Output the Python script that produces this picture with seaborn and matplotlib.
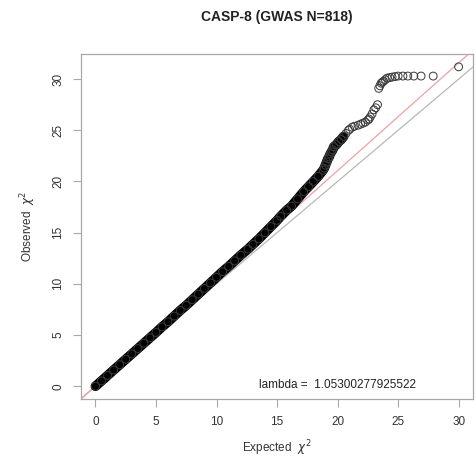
import numpy as np
import pandas as pd
import matplotlib
matplotlib.use("Agg")
import matplotlib.pyplot as plt
import seaborn as sns

# Points (expected vs observed chi-square)
expected = [0, 0.5, 1, 1.5, 2, 2.5, 3, 3.5, 4, 4.5, 5, 5.5, 6, 6.5, 7, 7.5, 8, 8.5, 9, 9.5,
            10, 10.5, 11, 11.5, 12, 12.6, 13, 13.5, 14, 14.5, 15, 15.3, 15.8, 16.2, 16.7, 17.2,
            17.6, 18.0, 18.4, 18.8, 18.9, 19.0, 19.1, 19.2, 19.3, 19.4, 19.5, 19.6, 19.7, 19.9,
            20.1, 20.3, 20.5, 20.7, 20.9, 21.0, 21.2, 21.4, 21.7, 21.9, 22.1, 22.3, 22.5, 22.6,
            22.7, 22.85, 23.0, 23.15, 23.3, 23.4, 23.5, 23.6, 23.7, 23.8, 23.95, 24.1, 24.3, 24.5,
            24.75, 25.0, 25.4, 25.8, 26.3, 26.9, 27.9, 30.0]
observed = [0, 0.52, 1.05, 1.58, 2.1, 2.63, 3.15, 3.68, 4.2, 4.73, 5.25, 5.8, 6.3, 6.85, 7.4, 7.9, 8.45, 9.0, 9.55, 10.1,
            10.65, 11.2, 11.7, 12.25, 12.8, 13.4, 13.85, 14.4, 15.0, 15.6, 16.2, 16.6, 17.2, 17.6, 18.3, 19.0,
            19.5, 20.0, 20.5, 21.1, 21.3, 21.6, 21.9, 22.2, 22.4, 22.7, 22.9, 23.1, 23.4, 23.6,
            23.9, 24.1, 24.4, 24.7, 25.0, 25.1, 25.3, 25.4, 25.5, 25.6, 25.7, 25.8, 26.0, 26.1,
            26.3, 26.6, 27.0, 27.2, 27.5, 29.1, 29.35, 29.6, 29.7, 29.8, 29.95, 30.1, 30.15, 30.2,
            30.25, 30.3, 30.3, 30.3, 30.3, 30.3, 30.3, 31.2]
lam = 1.05300277925522
title = "CASP-8 (GWAS N=818)"

df = pd.DataFrame({"expected": expected, "observed": observed})
dense = df[df["expected"] <= 20.5]

sns.set_style("white")
plt.rcParams["font.family"] = ["Liberation Sans", "DejaVu Sans"]

fig = plt.figure(figsize=(4.76, 4.70), dpi=100)
ax = fig.add_axes([0.170, 0.151, 0.824, 0.734])

ax.axline((0, 0), slope=1, color="#b8b8b8", lw=0.9, zorder=1)
ax.axline((0, 0), slope=lam, color="#f0a0a0", lw=0.9, zorder=1)

# dense part drawn as a thick band of overlapping circles
sns.lineplot(data=dense, x="expected", y="observed", ax=ax, color="black",
             lw=7, solid_capstyle="round", solid_joinstyle="round", sort=True, zorder=2)
sns.scatterplot(data=df, x="expected", y="observed", ax=ax, marker="o",
                facecolors="none", edgecolor="#3a3a3a", linewidth=0.7, s=32, zorder=3)

ax.set_xlim(-1.2, 31.2)
ax.set_ylim(-1.25, 32.45)
ax.set_xticks(range(0, 31, 5))
ax.set_yticks(range(0, 31, 5))
ax.set_yticklabels([str(v) for v in range(0, 31, 5)], rotation=90, va="center")

for s in ax.spines.values():
    s.set_color("#a8a8a8")
    s.set_linewidth(0.9)
ax.tick_params(axis="both", direction="out", length=6, width=0.8, color="#a8a8a8",
               labelsize=8.5, labelcolor="#333333", pad=6, left=True, bottom=True)

ax.set_xlabel(r"Expected  $\chi^2$", fontsize=8.5, color="#333333", labelpad=8)
ax.set_ylabel(r"Observed  $\chi^2$", fontsize=8.5, color="#333333", labelpad=10)
ax.set_title(title, fontsize=10, fontweight="bold", color="#222222", pad=24)

ax.text(20, 0.1, "lambda =  " + repr(lam), ha="center", va="center",
        fontsize=8.5, color="#222222")

fig.savefig("out.png", dpi=100)
